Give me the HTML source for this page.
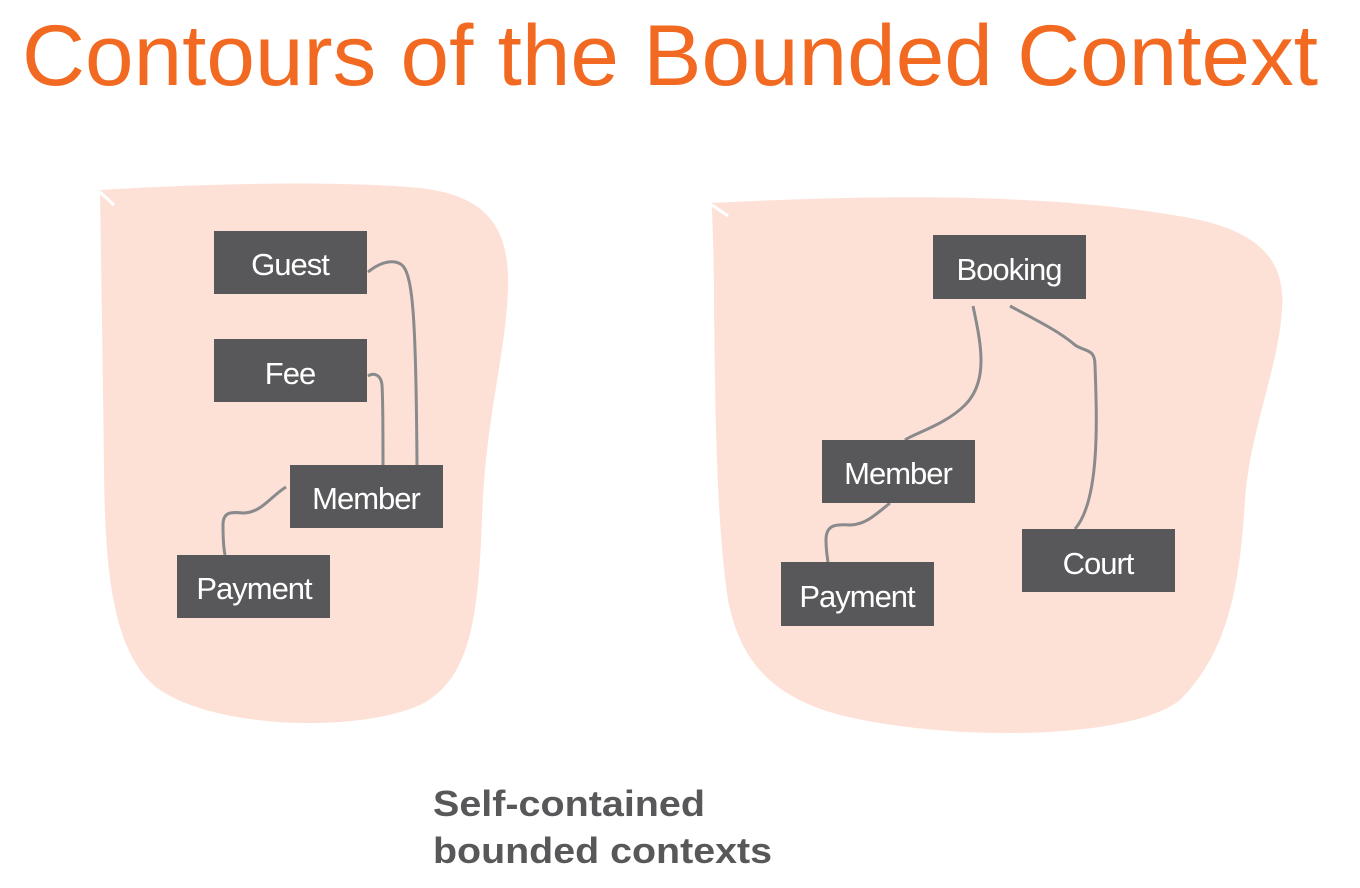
<!DOCTYPE html>
<html><head><meta charset="utf-8"><style>
html,body{margin:0;padding:0;background:#fff;width:1360px;height:888px;overflow:hidden}
</style></head><body>
<svg width="1360" height="888" viewBox="0 0 1360 888" xmlns="http://www.w3.org/2000/svg">
<text x="22" y="85" font-family="Liberation Sans, sans-serif" font-size="86" fill="#F26A22" textLength="1296" lengthAdjust="spacingAndGlyphs">Contours of the Bounded Context</text>

<path d="M100,190 C200,184 330,180 420,188 C490,196 510,230 508,290 C505,360 485,420 482,520 C478,620 470,680 420,705 C360,732 220,730 160,690 C110,655 105,560 104,470 C103,380 101,260 100,190 Z" fill="#FDE1D7"/>
<path d="M100,192 L114,205" stroke="#fff" stroke-width="3"/>
<path d="M712,203 C850,196 1050,190 1200,220 C1270,236 1285,270 1282,310 C1278,370 1250,430 1245,500 C1240,580 1230,650 1180,700 C1130,740 950,742 840,715 C770,696 740,660 728,600 C716,520 715,400 714,300 C714,250 712,220 712,203 Z" fill="#FDE1D7"/>
<path d="M712,205 L728,216" stroke="#fff" stroke-width="3"/>

<g fill="none" stroke="#8a8a8c" stroke-width="3">
<path d="M368,272 C380,262 395,258 403,266 C413,278 416,320 417,465"/>
<path d="M368,376 C374,372 381,375 382,385 C383,400 383,440 383,465"/>
<path d="M286,487 C270,497 262,512 244,513 C232,512 223,511 223,525 C223,535 223,545 225,555"/>
<path d="M973,306 C980,340 990,380 965,405 C945,425 915,433 905,440"/>
<path d="M1010,306 C1040,322 1060,332 1075,345 C1085,352 1095,348 1095,365 C1097,420 1100,500 1075,529"/>
<path d="M890,503 C875,515 865,525 850,525 C835,524 826,525 826,540 C826,550 827,555 828,562"/>
</g>

<g font-family="Liberation Sans, sans-serif" font-size="31" fill="#fff" text-anchor="middle" style="letter-spacing:-1px">
<rect x="214" y="231" width="153" height="63" fill="#58585A"/><text x="290" y="275">Guest</text>
<rect x="214" y="339" width="153" height="63" fill="#58585A"/><text x="290" y="384">Fee</text>
<rect x="290" y="465" width="153" height="63" fill="#58585A"/><text x="366" y="509">Member</text>
<rect x="177" y="555" width="153" height="63" fill="#58585A"/><text x="254" y="599">Payment</text>
<rect x="933" y="235" width="153" height="64" fill="#58585A"/><text x="1009" y="280">Booking</text>
<rect x="822" y="440" width="153" height="63" fill="#58585A"/><text x="898" y="484">Member</text>
<rect x="781" y="562" width="153" height="64" fill="#58585A"/><text x="857" y="607">Payment</text>
<rect x="1022" y="529" width="153" height="63" fill="#58585A"/><text x="1098" y="574">Court</text>
</g>

<g font-family="Liberation Sans, sans-serif" font-size="36" font-weight="bold" fill="#58585A">
<text x="433" y="816" textLength="272" lengthAdjust="spacingAndGlyphs">Self-contained</text>
<text x="433" y="863" textLength="339" lengthAdjust="spacingAndGlyphs">bounded contexts</text>
</g>
</svg>
</body></html>
